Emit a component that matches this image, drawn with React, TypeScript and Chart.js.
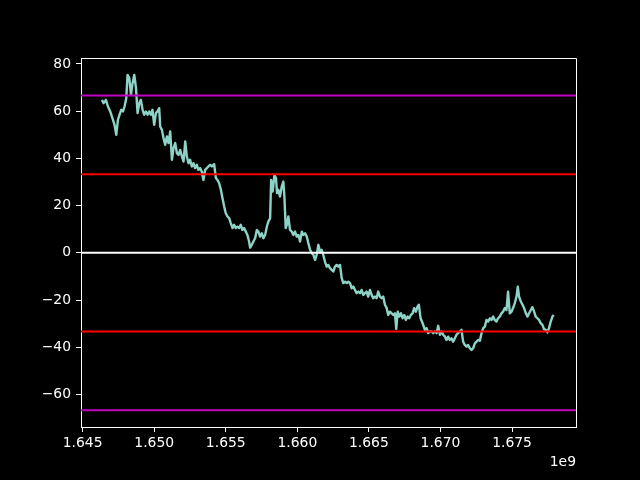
import React, { useEffect, useRef } from "react";
import { Chart, registerables } from "chart.js";

Chart.register(...registerables);

// x values in units of 1e9 seconds (axis shows offset "1e9")
const times: number[] = [
  1.64635, 1.64647, 1.64663, 1.64677, 1.64693, 1.64709, 1.64723, 1.64735, 1.64747, 1.64758,
  1.6477, 1.64782, 1.64793, 1.64805, 1.64814, 1.64826, 1.64838, 1.64849, 1.64861, 1.64873,
  1.64884, 1.64896, 1.64907, 1.64919, 1.6493, 1.64942, 1.64954, 1.64965, 1.64977, 1.64988,
  1.65, 1.65012, 1.65023, 1.65035, 1.65042, 1.65054, 1.65065, 1.65077, 1.65089, 1.651,
  1.65112, 1.65124, 1.65135, 1.65147, 1.65159, 1.6517, 1.65182, 1.65194, 1.65205, 1.65217,
  1.65228, 1.6524, 1.65251, 1.65263, 1.65274, 1.65286, 1.65298, 1.65309, 1.65321, 1.65333,
  1.65344, 1.65356, 1.65368, 1.65379, 1.65391, 1.65403, 1.65419, 1.65431, 1.65442, 1.65454,
  1.65466, 1.65477, 1.65489, 1.655, 1.65512, 1.65524, 1.65535, 1.65547, 1.65558, 1.6557,
  1.65581, 1.65593, 1.65605, 1.65616, 1.65628, 1.6564, 1.65651, 1.65663, 1.6567, 1.65682,
  1.65693, 1.65705, 1.65717, 1.65728, 1.6574, 1.65752, 1.65763, 1.65775, 1.65787, 1.65798,
  1.6581, 1.65817, 1.65828, 1.6584, 1.65851, 1.65858, 1.65867, 1.65879, 1.65891, 1.65902,
  1.65909, 1.65919, 1.6593, 1.65937, 1.65949, 1.65961, 1.65972, 1.65984, 1.65996, 1.66007,
  1.66019, 1.66031, 1.66042, 1.66054, 1.66066, 1.66077, 1.66089, 1.66101, 1.66112, 1.66124,
  1.66135, 1.66147, 1.66158, 1.6617, 1.66181, 1.66193, 1.66205, 1.66216, 1.66228, 1.6624,
  1.66251, 1.66263, 1.66275, 1.66286, 1.66298, 1.6631, 1.66321, 1.66333, 1.66345, 1.66356,
  1.66368, 1.6638, 1.66391, 1.66403, 1.66414, 1.66426, 1.66438, 1.66449, 1.66461, 1.66472,
  1.66484, 1.66495, 1.66507, 1.66519, 1.6653, 1.66542, 1.66554, 1.66565, 1.66577, 1.66589,
  1.666, 1.66612, 1.66624, 1.66635, 1.66647, 1.66659, 1.6667, 1.66682, 1.66691, 1.66701,
  1.66712, 1.66724, 1.66735, 1.66747, 1.66758, 1.6677, 1.66781, 1.66793, 1.66805, 1.66816,
  1.66828, 1.6684, 1.66849, 1.66861, 1.66875, 1.66891, 1.66903, 1.66914, 1.66926, 1.66938,
  1.66949, 1.66961, 1.66973, 1.66984, 1.66996, 1.67008, 1.67019, 1.67031, 1.67042, 1.67054,
  1.67065, 1.67077, 1.67088, 1.671, 1.67112, 1.67123, 1.67135, 1.67147, 1.67158, 1.6717,
  1.67182, 1.67193, 1.67205, 1.67217, 1.67228, 1.6724, 1.67252, 1.67263, 1.67275, 1.67287,
  1.67298, 1.6731, 1.67321, 1.67333, 1.67345, 1.67356, 1.67368, 1.67379, 1.67391, 1.67402,
  1.67414, 1.67426, 1.67437, 1.67449, 1.67461, 1.67472, 1.67484, 1.67496, 1.67507, 1.67519,
  1.67531, 1.6754, 1.67549, 1.67561, 1.67573, 1.67584, 1.67596, 1.67608, 1.67619, 1.67631,
  1.67642, 1.67654, 1.67665, 1.67677, 1.67688, 1.677, 1.67712, 1.67723, 1.67735, 1.67747,
  1.67758, 1.6777, 1.67782, 1.67791,
];

const values: number[] = [
  64.8, 63.4, 64.8, 62.0, 59.9, 57.0, 54.2, 50.0, 56.4, 58.5,
  60.6, 59.9, 62.0, 65.5, 75.4, 74.0, 67.0, 71.9, 75.4, 69.8,
  59.2, 63.4, 64.8, 60.6, 58.5, 59.9, 58.5, 59.9, 58.5, 60.6,
  54.2, 59.2, 59.9, 61.3, 53.5, 52.1, 48.6, 45.8, 49.3, 46.5,
  51.4, 39.4, 44.4, 46.5, 42.2, 41.5, 43.6, 40.8, 38.7, 47.2,
  40.8, 38.0, 39.4, 36.6, 38.0, 35.9, 37.3, 35.2, 35.9, 34.4,
  30.9, 35.2, 35.9, 36.6, 37.3, 36.6, 37.6, 31.7, 30.9, 29.5,
  26.7, 23.2, 19.6, 16.8, 15.4, 14.7, 12.6, 10.5, 11.9, 10.5,
  11.1, 10.5, 11.9, 9.7, 10.5, 9.0, 7.6, 4.8, 2.2, 3.4,
  4.8, 6.2, 9.7, 9.0, 6.9, 8.3, 6.2, 7.6, 11.1, 13.3,
  14.7, 30.9, 26.0, 33.0, 31.7, 25.3, 26.7, 23.9, 28.1, 30.2,
  24.6, 10.5, 12.6, 15.4, 9.7, 9.0, 7.6, 9.0, 6.9, 7.6,
  4.8, 9.0, 7.6, 8.3, 6.9, 4.1, 1.3, -0.1, -0.8, -3.0,
  -0.8, 3.4, 0.6, 1.3, -0.8, -3.7, -5.8, -5.1, -6.5, -7.2,
  -7.9, -5.8, -5.1, -5.8, -5.1, -10.7, -12.8, -12.2, -12.8, -12.2,
  -12.8, -15.0, -14.3, -15.7, -17.1, -16.4, -17.1, -15.7, -17.8, -17.1,
  -16.4, -18.5, -15.7, -17.8, -19.2, -18.5, -19.2, -16.4, -18.5, -19.2,
  -18.5, -22.0, -23.4, -26.3, -24.9, -25.6, -26.3, -25.6, -32.2, -24.9,
  -27.0, -25.6, -27.7, -26.3, -28.4, -27.0, -27.7, -26.3, -25.6, -23.4,
  -24.9, -22.7, -22.0, -27.7, -29.8, -32.6, -31.9, -34.0, -33.3, -33.3,
  -34.0, -33.3, -34.0, -30.9, -34.7, -33.3, -34.7, -35.5, -36.9, -35.5,
  -36.9, -36.2, -37.6, -36.2, -34.7, -34.0, -33.3, -32.6, -37.6, -39.0,
  -39.7, -39.0, -40.4, -41.1, -40.4, -38.3, -37.6, -36.9, -37.2, -34.0,
  -31.9, -31.2, -28.4, -29.1, -27.7, -28.4, -27.0, -28.4, -29.1, -27.7,
  -27.0, -25.6, -24.9, -23.4, -24.2, -16.4, -25.6, -24.9, -23.4, -21.3,
  -18.5, -14.3, -18.5, -20.6, -22.0, -23.4, -25.6, -27.0, -25.6, -24.2,
  -23.0, -24.9, -27.0, -27.7, -28.4, -29.8, -30.5, -32.3, -32.6, -33.7,
  -31.9, -29.1, -27.0, -26.3,
];

const hLevels: number[] = [66.67, 33.33, 0, -33.33, -66.67];
const hColors: string[] = ["#bf00bf", "#ff0000", "#ffffff", "#ff0000", "#bf00bf"];

const xTicks: number[] = [1.645, 1.65, 1.655, 1.66, 1.665, 1.67, 1.675];
const yTicks: number[] = [-60, -40, -20, 0, 20, 40, 60, 80];
const xRange: number[] = [1.644888, 1.679466];
const yRange: number[] = [-73.76, 82.54];
const offsetLabel = "1e9";

const FONT = "'DejaVu Sans', sans-serif";

export default function App() {
  const ref = useRef<HTMLCanvasElement | null>(null);

  useEffect(() => {
    document.body.style.margin = "0";
    document.body.style.background = "#000";
    const canvas = ref.current;
    if (!canvas) return;

    const bgPlugin = {
      id: "bg",
      beforeDraw(chart: any) {
        const ctx = chart.ctx;
        ctx.save();
        ctx.fillStyle = "#000";
        ctx.fillRect(0, 0, chart.width, chart.height);
        ctx.restore();
      },
      afterDraw(chart: any) {
        const ctx = chart.ctx;
        const a = chart.chartArea;
        ctx.save();
        ctx.strokeStyle = "#ffffff";
        ctx.lineWidth = 1;
        ctx.beginPath();
        ctx.moveTo(a.left, a.top + 0.5);
        ctx.lineTo(a.right + 0.5, a.top + 0.5);
        ctx.lineTo(a.right + 0.5, a.bottom);
        ctx.stroke();
        ctx.fillStyle = "#ffffff";
        ctx.font = `13.9px ${FONT}`;
        ctx.textAlign = "right";
        ctx.textBaseline = "alphabetic";
        ctx.fillText(offsetLabel, a.right, a.bottom + 39);
        ctx.restore();
      },
    };

    const hDatasets = hLevels.map((lv, i) => ({
      type: "line" as const,
      data: [
        { x: xRange[0], y: lv },
        { x: xRange[1], y: lv },
      ],
      borderColor: hColors[i],
      borderWidth: 2,
      pointRadius: 0,
      fill: false,
      order: 1,
    }));

    const chart = new Chart(canvas, {
      type: "line",
      data: {
        datasets: [
          {
            data: times.map((t, i) => ({ x: t, y: values[i] })),
            borderColor: "#8dd3c7",
            borderWidth: 2.4,
            pointRadius: 0,
            fill: false,
            tension: 0,
            borderJoinStyle: "round",
            order: 2,
          } as any,
          ...hDatasets,
        ],
      },
      options: {
        animation: false,
        responsive: false,
        maintainAspectRatio: false,
        layout: { padding: { left: 0, top: 58, right: 64, bottom: 0 } },
        plugins: {
          legend: { display: false },
          tooltip: { enabled: false },
        },
        scales: {
          x: {
            type: "linear",
            min: xRange[0],
            max: xRange[1],
            afterBuildTicks: (s: any) => {
              s.ticks = xTicks.map((v) => ({ value: v }));
            },
            afterFit: (s: any) => {
              s.height = 53;
            },
            ticks: {
              color: "#ffffff",
              font: { family: FONT, size: 13.9 },
              padding: 3,
              maxRotation: 0,
              autoSkip: false,
              callback: (v: any) => Number(v).toFixed(3),
            },
            grid: {
              drawOnChartArea: false,
              drawTicks: true,
              tickLength: 5,
              color: "#ffffff",
            },
            border: { display: true, color: "#ffffff", width: 1 },
          },
          y: {
            type: "linear",
            min: yRange[0],
            max: yRange[1],
            afterBuildTicks: (s: any) => {
              s.ticks = yTicks.map((v) => ({ value: v }));
            },
            afterFit: (s: any) => {
              s.width = 81;
            },
            ticks: {
              color: "#ffffff",
              font: { family: FONT, size: 13.9 },
              padding: 5,
              autoSkip: false,
              callback: (v: any) => {
                const n = Number(v);
                return n < 0 ? "\u2212" + Math.abs(n) : String(n);
              },
            },
            grid: {
              drawOnChartArea: false,
              drawTicks: true,
              tickLength: 5,
              color: "#ffffff",
            },
            border: { display: true, color: "#ffffff", width: 1 },
          },
        },
      },
      plugins: [bgPlugin],
    });

    return () => chart.destroy();
  }, []);

  return (
    <div style={{ width: 640, height: 480, background: "#000" }}>
      <canvas ref={ref} width={640} height={480} style={{ display: "block" }} />
    </div>
  );
}
